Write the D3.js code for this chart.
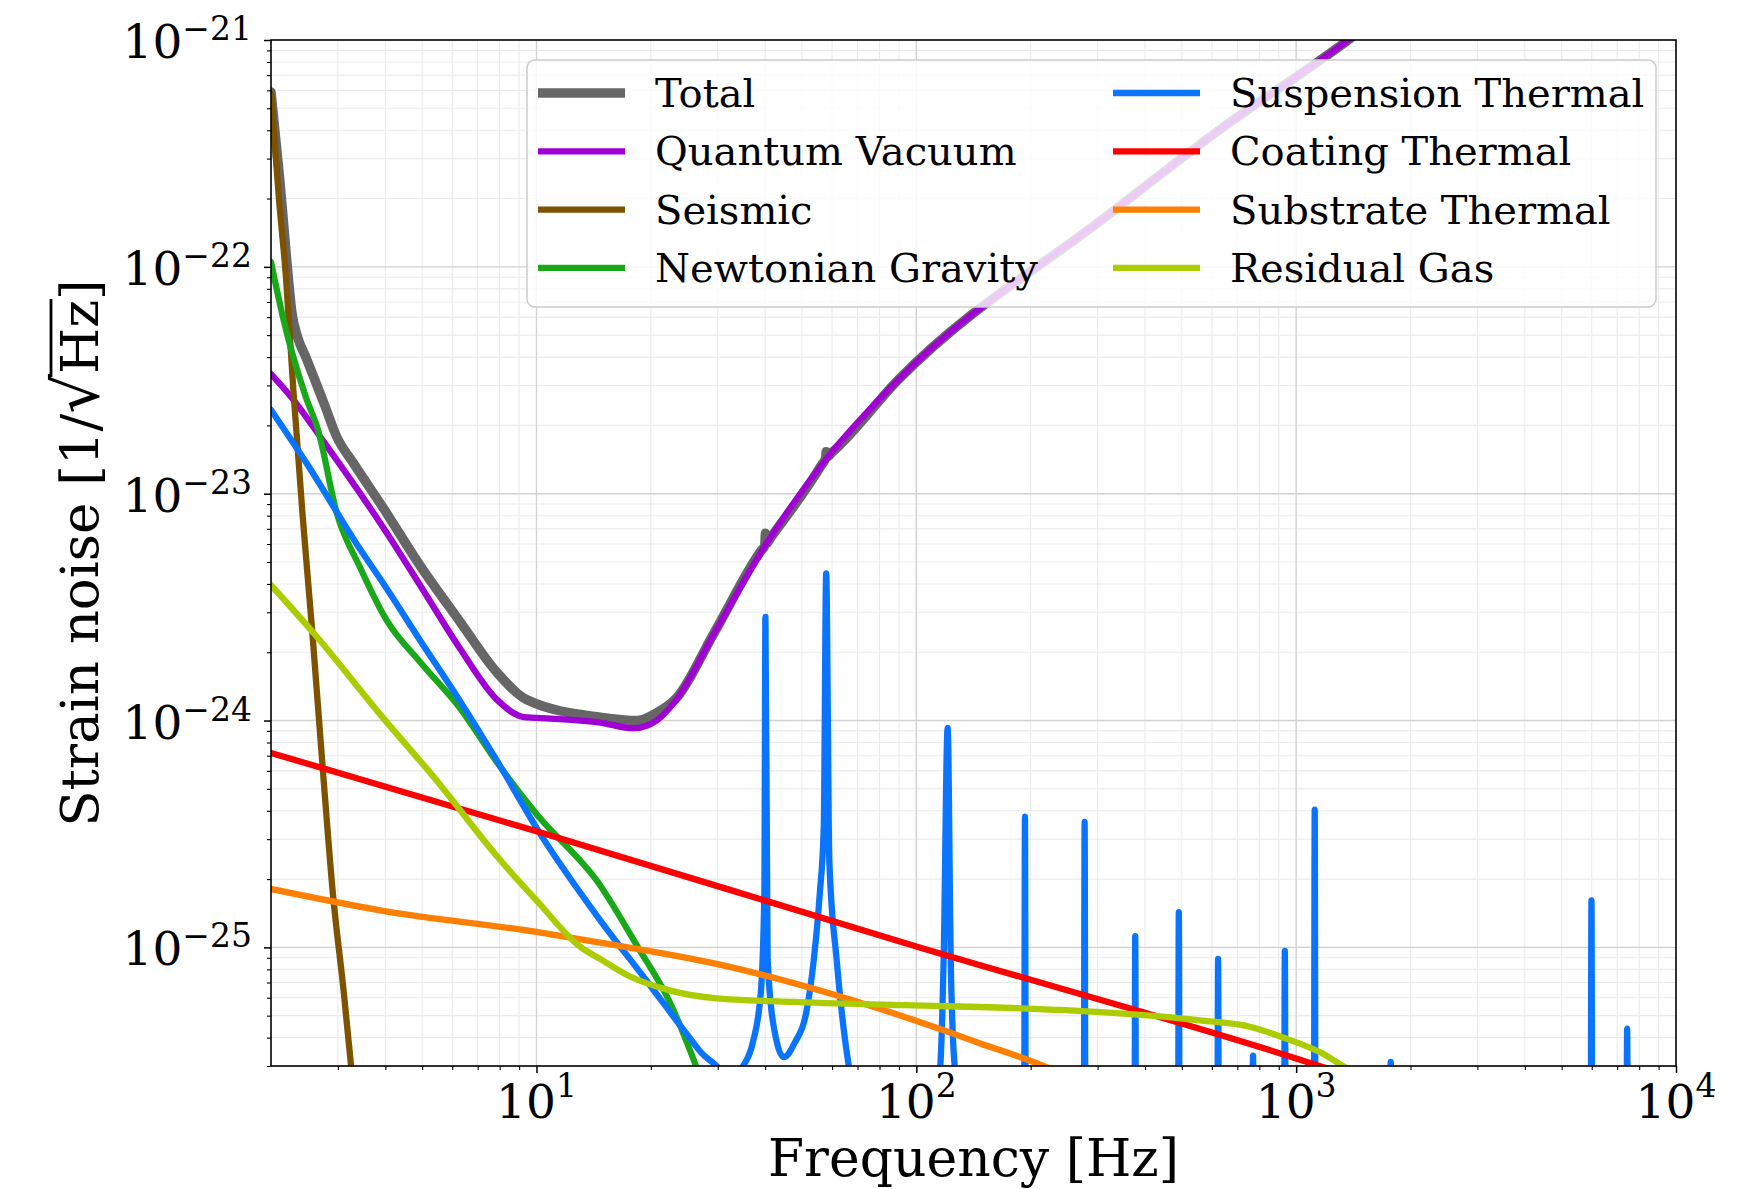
<!DOCTYPE html>
<html>
<head>
<meta charset="utf-8">
<style>
  body { margin: 0; background: #fff; }
  svg { display: block; }
  .tick-label { font-family: "DejaVu Serif", serif; font-size: 47px; fill: #000; }
  .axis-label { font-family: "DejaVu Serif", serif; font-size: 52px; fill: #000; }
  .legend-text { font-family: "DejaVu Serif", serif; font-size: 40px; fill: #000; }
</style>
</head>
<body>
<svg width="1737" height="1189"></svg>
<script src="https://d3js.org/d3.v7.min.js"></script>
<script>

// noise curves, as [frequency in Hz, strain in 1/sqrt(Hz)]
var total = [
  [2.0, 5.9e-22], [2.11, 2.41e-22], [2.20, 1.07e-22], [2.27, 6.3e-23], [2.35, 4.9e-23],
  [2.47, 4.0e-23], [2.77, 2.45e-23], [2.98, 1.78e-23], [3.3, 1.36e-23], [3.94, 8.7e-24],
  [4.97, 4.74e-24], [6.25, 2.77e-24], [7.89, 1.62e-24], [9.48, 1.23e-24], [14.7, 1.035e-24],
  [18.5, 1.0e-24], [20.7, 1.08e-24], [23.3, 1.25e-24], [29.4, 2.45e-24], [39.0, 5.6e-24],
  [39.9, 5.9e-24], [40.06, 6.7e-24], [40.2, 6.0e-24], [41.5, 6.45e-24], [56.3, 1.34e-23],
  [57.75, 1.44e-23], [57.9, 1.53e-23], [58.05, 1.45e-23], [60, 1.52e-23], [89.5, 3.17e-23],
  [318, 1.68e-22], [624, 3.98e-22], [1349, 9.8e-22], [1500, 1.12e-21]
];

var quantumVacuum = [
  [2.0, 3.37e-23], [2.26, 2.67e-23], [2.77, 1.67e-23], [3.94, 7.13e-24], [4.97, 3.88e-24],
  [6.25, 2.11e-24], [7.89, 1.23e-24], [9.27, 1.035e-24], [10.9, 1.02e-24], [14.7, 9.8e-25],
  [18.0, 9.25e-25], [20.7, 1.0e-24], [23.3, 1.23e-24], [29.4, 2.43e-24], [39.8, 5.82e-24],
  [57.7, 1.41e-23], [89.5, 3.17e-23], [318, 1.68e-22], [624, 3.98e-22], [1349, 9.8e-22],
  [1500, 1.12e-21]
];

var seismic = [
  [2.0, 5.8e-22], [2.10, 1.97e-22], [2.19, 9.0e-23], [2.29, 2.87e-23], [2.42, 8.2e-24],
  [2.57, 2.43e-24], [2.74, 6.0e-25], [2.91, 1.73e-25], [3.11, 6.3e-26], [3.25, 3.0e-26],
  [3.4, 1.5e-26]
];

var newtonianGravity = [
  [2.0, 1.05e-22], [2.15, 6.0e-23], [2.47, 2.67e-23], [2.66, 1.91e-23], [2.98, 8.2e-24],
  [3.43, 4.74e-24], [4.03, 2.77e-24], [4.97, 1.79e-24], [6.25, 1.15e-24], [7.89, 6.5e-25],
  [9.96, 3.9e-25], [14.7, 1.88e-25], [18.5, 1.0e-25], [22.3, 5.85e-26], [26.3, 3.0e-26],
  [30, 1.6e-26]
];

var suspensionThermal = [
  [2.0, 2.34e-23], [2.47, 1.38e-23], [3.43, 5.7e-24], [3.94, 4.05e-24], [4.97, 2.22e-24],
  [6.25, 1.24e-24], [7.89, 6.6e-25], [10.2, 3.19e-25], [14.7, 1.32e-25], [19.4, 7.2e-26],
  [25.0, 4.1e-26], [27.3, 3.4e-26], [29.8, 3.0e-26], [32.3, 2.6e-26],
  [35.0, 3.0e-26], [37.1, 3.8e-26], [38.95, 6.3e-26], [39.8, 1.73e-25], [40.06, 2.86e-24],
  [40.6, 8.8e-26], [42.66, 4.0e-26], [44.78, 3.28e-26], [47.86, 3.8e-26], [51.46, 5.3e-26],
  [53.7, 8.8e-26], [55.7, 1.73e-25], [57.06, 3.4e-25], [57.9, 4.45e-24], [59.0, 2.43e-25],
  [61.7, 8.8e-26], [64.8, 4.0e-26], [66.4, 3.0e-26], [75, 1.2e-26],
  [105, 1.2e-26], [115.6, 3.0e-26], [118.0, 8.8e-26], [120.9, 9.27e-25], [123.2, 8.8e-26],
  [126.2, 3.0e-26], [140, 1.2e-26],
  [192.2, 1.2e-26], [193.2, 3.77e-25], [194.2, 1.2e-26],
  [276.0, 1.2e-26], [277.4, 3.57e-25], [278.8, 1.2e-26],
  [375.2, 1.2e-26], [377.0, 1.12e-25], [378.8, 1.2e-26],
  [488.6, 1.2e-26], [491.0, 1.43e-25], [493.4, 1.2e-26],
  [620.0, 1.2e-26], [623.0, 8.9e-26], [626.0, 1.2e-26],
  [766.3, 1.2e-26], [770.0, 3.33e-26], [773.7, 1.2e-26],
  [929.2, 1.2e-26], [933.7, 9.66e-26], [938.2, 1.2e-26],
  [1113.6, 1.2e-26], [1119, 4.05e-25], [1124.4, 1.2e-26],
  [1765.4, 1.2e-26], [1774, 3.13e-26], [1782.6, 1.2e-26],
  [5961, 1.2e-26], [5990, 1.61e-25], [6019, 1.2e-26],
  [7401, 1.2e-26], [7437, 4.38e-26], [7473, 1.2e-26],
  [10000, 1.2e-26]
];

var coatingThermal = [
  [2.0, 7.2e-25], [10, 3.25e-25], [100, 1.01e-25], [1000, 3.24e-26], [1500, 2.6e-26]
];

var substrateThermal = [
  [2.0, 1.81e-25], [3.94, 1.45e-25], [10, 1.17e-25], [14.7, 1.05e-25], [29.4, 8.5e-26],
  [59.0, 6.28e-26], [118, 4.31e-26], [146.8, 3.78e-26], [216, 3.0e-26], [260, 2.6e-26]
];

var residualGas = [
  [2.0, 3.95e-24], [2.59, 2.43e-24], [3.94, 1.03e-24], [5.45, 5.46e-25], [7.89, 2.51e-25],
  [10.0, 1.61e-25], [13.1, 1.0e-25], [14.7, 8.9e-26], [17.7, 7.42e-26], [22.3, 6.48e-26],
  [29.4, 5.97e-26], [46.8, 5.75e-26], [93.8, 5.56e-26], [188, 5.39e-26], [299, 5.2e-26],
  [557, 4.77e-26], [759, 4.46e-26], [942, 3.96e-26], [1167, 3.42e-26], [1328, 3.0e-26],
  [1656, 2.45e-26]
];

var xTicks = [10, 100, 1000, 10000],
    xTickExps = ["1", "2", "3", "4"];
var yTicks = [1e-21, 1e-22, 1e-23, 1e-24, 1e-25],
    yTickExps = ["\u221221", "\u221222", "\u221223", "\u221224", "\u221225"];

var series = [
  {name: "Total", data: total, color: "#666666", width: 9.5},
  {name: "Quantum Vacuum", data: quantumVacuum, color: "#a000d4", width: 6.3},
  {name: "Seismic", data: seismic, color: "#7f5200", width: 6.3},
  {name: "Newtonian Gravity", data: newtonianGravity, color: "#1aa81a", width: 6.3},
  {name: "Suspension Thermal", data: suspensionThermal, color: "#0a74ff", width: 6.3},
  {name: "Coating Thermal", data: coatingThermal, color: "#ff0000", width: 6.3},
  {name: "Substrate Thermal", data: substrateThermal, color: "#ff7f00", width: 6.3},
  {name: "Residual Gas", data: residualGas, color: "#aacc00", width: 6.3}
];

var svg = d3.select("svg"),
    plotL = 271, plotR = 1676, plotT = 40, plotB = 1066;

var x = d3.scaleLog().domain([2, 1e4]).range([plotL, plotR]),
    y = d3.scaleLog().domain([3e-26, 1e-21]).range([plotB, plotT]);

var xMinor = [], yMinor = [];
[1, 10, 100, 1000].forEach(function(p) {
  for (var k = 2; k < 10; ++k) if (k * p > 2) xMinor.push(k * p);
});
[1e-26, 1e-25, 1e-24, 1e-23, 1e-22].forEach(function(p) {
  for (var k = 2; k < 10; ++k) if (k * p > 2.9e-26) yMinor.push(k * p);
});

// grid
var grid = svg.append("g");
grid.selectAll(".xminor").data(xMinor).enter().append("line")
    .attr("x1", x).attr("x2", x).attr("y1", plotT).attr("y2", plotB)
    .attr("stroke", "#ebebeb").attr("stroke-width", 1.1);
grid.selectAll(".yminor").data(yMinor).enter().append("line")
    .attr("y1", y).attr("y2", y).attr("x1", plotL).attr("x2", plotR)
    .attr("stroke", "#ebebeb").attr("stroke-width", 1.1);
grid.selectAll(".xmajor").data(xTicks.slice(0, 3)).enter().append("line")
    .attr("x1", x).attr("x2", x).attr("y1", plotT).attr("y2", plotB)
    .attr("stroke", "#d2d2d2").attr("stroke-width", 1.4);
grid.selectAll(".ymajor").data(yTicks.slice(1)).enter().append("line")
    .attr("y1", y).attr("y2", y).attr("x1", plotL).attr("x2", plotR)
    .attr("stroke", "#d2d2d2").attr("stroke-width", 1.4);

// curves
svg.append("clipPath").attr("id", "plot-area")
  .append("rect").attr("x", plotL).attr("y", plotT).attr("width", plotR - plotL).attr("height", plotB - plotT);

var line = d3.line()
    .x(function(d) { return x(d[0]); })
    .y(function(d) { return y(d[1]); })
    .curve(d3.curveMonotoneX);

svg.append("g").attr("clip-path", "url(#plot-area)")
  .selectAll("path").data(series).enter().append("path")
    .attr("d", function(d) { return line(d.data); })
    .attr("fill", "none")
    .attr("stroke", function(d) { return d.color; })
    .attr("stroke-width", function(d) { return d.width; })
    .attr("stroke-linejoin", "round")
    .attr("stroke-linecap", "round");

// axes
function ticks(g, axis, size, w) {
  g.call(axis.tickSize(size).tickFormat(""));
  g.select(".domain").remove();
  g.selectAll(".tick line").attr("stroke", "#000").attr("stroke-width", w);
}
svg.append("g").attr("transform", "translate(0," + plotB + ")")
    .call(ticks, d3.axisBottom(x).tickValues(xMinor), 4, 1.1);
svg.append("g").attr("transform", "translate(0," + plotB + ")")
    .call(ticks, d3.axisBottom(x).tickValues(xTicks), 7, 1.5);
svg.append("g").attr("transform", "translate(" + plotL + ",0)")
    .call(ticks, d3.axisLeft(y).tickValues(yMinor), 4, 1.1);
svg.append("g").attr("transform", "translate(" + plotL + ",0)")
    .call(ticks, d3.axisLeft(y).tickValues(yTicks), 7, 1.5);

svg.append("rect")
    .attr("x", plotL).attr("y", plotT).attr("width", plotR - plotL).attr("height", plotB - plotT)
    .attr("fill", "none").attr("stroke", "#000").attr("stroke-width", 1.6);

svg.append("g").selectAll("text").data(xTicks).enter().append("text")
    .attr("class", "tick-label")
    .attr("x", x).attr("y", plotB + 52)
    .attr("text-anchor", "middle")
    .each(function(d, i) {
      var t = d3.select(this);
      t.append("tspan").text("10");
      t.append("tspan").attr("dy", -21).attr("font-size", 33).text(xTickExps[i]);
    });

svg.append("g").selectAll("text").data(yTicks).enter().append("text")
    .attr("class", "tick-label")
    .attr("x", plotL - 19).attr("y", function(d) { return y(d) + 18; })
    .attr("text-anchor", "end")
    .each(function(d, i) {
      var t = d3.select(this);
      t.append("tspan").text("10");
      t.append("tspan").attr("dy", -18).attr("font-size", 33).text(yTickExps[i]);
    });

svg.append("text").attr("class", "axis-label")
    .attr("x", (plotL + plotR) / 2).attr("y", 1176)
    .attr("text-anchor", "middle")
    .text("Frequency [Hz]");

// y label, with the radical's bar drawn over "Hz"
var ylab = svg.append("g").attr("transform", "translate(98," + (plotT + plotB) / 2 + ") rotate(-90)");
var ytext = ylab.append("text").attr("class", "axis-label")
    .attr("text-anchor", "middle").style("font-size", "53px");
ytext.append("tspan").text("Strain noise [1/");
ytext.append("tspan").style("font-size", "62px").text("\u221A");
ytext.append("tspan").text("Hz]");
var node = ytext.node(),
    s = node.getEndPositionOfChar(16).x - 3,
    e = node.getEndPositionOfChar(18).x + 1;
ylab.append("line")
    .attr("x1", s).attr("x2", e).attr("y1", -47).attr("y2", -47)
    .attr("stroke", "#000").attr("stroke-width", 2.8);

// legend
var legend = svg.append("g");
legend.append("rect")
    .attr("x", 527).attr("y", 60).attr("width", 1129).attr("height", 247).attr("rx", 8)
    .attr("fill", "rgba(255,255,255,0.8)").attr("stroke", "#cccccc").attr("stroke-width", 1.5);

var entry = legend.selectAll(".entry").data(series).enter().append("g")
    .attr("transform", function(d, i) {
      return "translate(" + (i < 4 ? 538 : 1113) + "," + (93 + (i % 4) * 58.3) + ")";
    });
entry.append("line")
    .attr("x1", 0).attr("x2", 87)
    .attr("stroke", function(d) { return d.color; })
    .attr("stroke-width", function(d) { return d.width; });
entry.append("text").attr("class", "legend-text")
    .attr("x", 117).attr("dy", "0.35em")
    .text(function(d) { return d.name; });

</script>
</body>
</html>
